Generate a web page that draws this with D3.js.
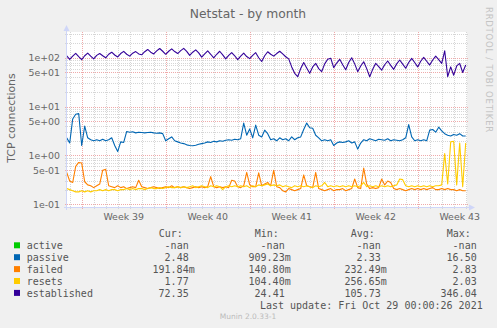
<!DOCTYPE html>
<html><head><meta charset="utf-8">
<script src="https://cdn.jsdelivr.net/npm/d3@7"></script>
<style>
html,body{margin:0;padding:0;background:#f0f0f0;}
svg{display:block;}
text{font-family:"DejaVu Sans",sans-serif;}
.mono{font-family:"DejaVu Sans Mono",monospace;white-space:pre;}
</style></head><body>
<svg id="chart" width="497" height="328"></svg>
<script>
// ---- data ----
const title = "Netstat - by month";
const yLabel = "TCP connections";
const seriesStart = "2021-09-25T18:00:00Z"; // first sample
const stepHours = 6;
const weekStarts = ["2021-09-27","2021-10-04","2021-10-11","2021-10-18","2021-10-25"];
const weekLabels = ["Week 39","Week 40","Week 41","Week 42","Week 43"];
const yTickValues = [0.1, 0.5, 1, 5, 10, 50, 100];
const yTickLabels = ["1e-01","5e-01","1e+00","5e+00","1e+01","5e+01","1e+02"];

const passive = [2.3,1.8,5.6,7.0,7.2,1.6,4.0,2.3,2.1,2.0,
 2.1,2.0,2.15,2.0,2.1,2.3,1.6,1.2,1.9,1.85,
 3.1,3.0,3.05,2.9,3.0,2.95,2.9,2.95,3.0,2.9,
 2.85,2.9,2.8,2.0,2.2,2.4,2.0,1.9,1.8,1.75,
 1.65,1.6,1.58,1.62,1.7,1.75,1.8,1.9,1.85,1.95,
 1.9,2.0,1.95,2.05,2.1,2.05,2.15,2.1,2.2,4.6,
 2.6,3.5,2.3,4.2,2.6,2.4,3.3,2.8,2.1,2.2,
 2.0,2.3,2.1,2.2,2.0,2.4,2.1,2.3,2.4,3.4,
 4.6,3.7,3.6,2.6,2.3,2.0,2.1,2.0,2.1,1.6,
 1.8,1.9,1.85,1.9,2.0,1.8,1.9,1.35,1.8,2.1,
 2.0,2.2,2.1,2.0,2.15,2.1,2.05,2.2,2.0,2.1,
 2.05,2.0,2.1,2.3,4.3,2.4,2.0,2.1,2.0,2.1,
 2.0,3.3,3.4,3.0,3.8,3.2,2.8,2.6,2.5,2.7,
 2.6,2.8,2.5,2.5];
const failed = [0.45,0.3,0.28,0.6,0.72,0.7,0.29,0.25,0.24,0.22,
 0.24,0.26,0.5,0.52,0.24,0.23,0.22,0.24,0.22,0.23,
 0.21,0.22,0.23,0.22,0.31,0.23,0.22,0.21,0.22,0.23,
 0.22,0.21,0.22,0.23,0.22,0.24,0.22,0.23,0.22,0.23,
 0.22,0.21,0.22,0.23,0.22,0.23,0.22,0.23,0.37,0.23,
 0.22,0.23,0.22,0.23,0.22,0.31,0.3,0.23,0.22,0.24,
 0.45,0.25,0.23,0.23,0.44,0.24,0.26,0.28,0.24,0.5,
 0.23,0.22,0.19,0.18,0.21,0.2,0.19,0.2,0.21,0.4,
 0.24,0.23,0.22,0.45,0.21,0.2,0.19,0.2,0.21,0.19,
 0.2,0.2,0.21,0.19,0.2,0.21,0.33,0.22,0.21,0.55,
 0.26,0.21,0.22,0.21,0.22,0.33,0.25,0.3,0.28,0.21,
 0.2,0.21,0.2,0.19,0.2,0.21,0.2,0.21,0.2,0.21,
 0.2,0.21,0.22,0.2,0.2,0.21,0.2,0.21,0.2,0.2,
 0.19,0.2,0.19,0.19];
const resets = [0.21,0.2,0.19,0.18,0.18,0.19,0.18,0.19,0.18,0.19,
 0.19,0.2,0.19,0.2,0.19,0.2,0.2,0.19,0.2,0.2,
 0.21,0.2,0.21,0.2,0.21,0.21,0.2,0.21,0.22,0.21,
 0.21,0.22,0.21,0.22,0.23,0.22,0.22,0.23,0.22,0.23,
 0.22,0.23,0.24,0.22,0.23,0.24,0.23,0.22,0.24,0.23,
 0.24,0.23,0.2,0.23,0.24,0.23,0.24,0.23,0.24,0.23,
 0.24,0.22,0.24,0.23,0.25,0.24,0.25,0.26,0.24,0.25,
 0.24,0.25,0.23,0.24,0.23,0.22,0.24,0.23,0.24,0.23,
 0.24,0.23,0.22,0.24,0.23,0.24,0.28,0.23,0.24,0.23,
 0.24,0.23,0.24,0.23,0.24,0.23,0.24,0.23,0.24,0.28,
 0.23,0.24,0.23,0.24,0.23,0.24,0.23,0.24,0.23,0.24,
 0.25,0.33,0.32,0.24,0.23,0.24,0.23,0.24,0.23,0.24,
 0.23,0.24,0.23,0.24,0.24,0.25,1.1,0.26,1.9,1.95,
 0.25,1.8,0.23,1.8];
const established = [110,
 93,108,123,106, 92,110,125,108, 95,112,122,110, 100,118,130,114,
 104,122,135,118, 108,124,134,120, 115,133,148,130, 120,138,155,136,
 118,136,152,134, 122,140,156,135, 112,130,145,126, 103,120,138,118,
 100,118,136,115, 95,112,128,110, 92,108,125,106, 96,112,127,100,
 84,110,133,118, 108,122,136,120, 105,95,65,48, 41,60,80,62,
 48,65,77,60, 52,75,93,98, 63,78,93,72, 57,80,100,75,
 52,68,83,60, 41,58,77,66, 56,72,86,70, 58,75,90,74,
 61,80,97,80, 65,85,102,85, 71,90,108,92, 77,139,41,65,
 44,68,77,50, 71];

const legendNames = ["active","passive","failed","resets","established"];
const legendColors = ["#00cc00","#0066b3","#ff8000","#ffcc00","#330099"];
const curVals = ["-nan","2.48","191.84m","1.77","72.35"];
const minVals = ["-nan","909.23m","140.80m","104.40m","24.41"];
const avgVals = ["-nan","2.33","232.49m","256.65m","105.73"];
const maxVals = ["-nan","16.50","2.83","2.03","346.04"];
const colHeaders = ["Cur:","Min:","Avg:","Max:"];
const lastUpdate = "Last update: Fri Oct 29 00:00:26 2021";
const footer = "Munin 2.0.33-1";
const watermark = "RRDTOOL / TOBI OETIKER";

// ---- layout ----
const L = 67, R = 467, T = 32, B = 207;
const DAY = 86400000;
const mon0 = Date.parse(weekStarts[0] + "T00:00:00Z");
const pxPerDay = 12;
const t0 = mon0 - (81.7 - L) / pxPerDay * DAY;
const t1 = t0 + (R - L) / pxPerDay * DAY;

const svg = d3.select("#chart");
const x = d3.scaleUtc().domain([new Date(t0), new Date(t1)]).range([L, R]);
const y = d3.scaleLog().domain([0.0882, 337]).range([B, T]);

svg.append("rect").attr("width",497).attr("height",328).attr("fill","#f0f0f0");
svg.append("rect").attr("x",L).attr("y",T).attr("width",R-L).attr("height",B-T).attr("fill","#ffffff");

const g = svg.append("g");
const gridGray = "#d6d6d6";
const gridRed = "#efaaaa";

// horizontal grid
const minorY = [], majorY = [];
for (let e = -2; e <= 3; e++) {
  for (let m = 1; m <= 9; m++) {
    const v = m * Math.pow(10, e);
    if (v < y.domain()[0] || v > y.domain()[1]) continue;
    (m === 1 || m === 5 ? majorY : minorY).push(v);
  }
}
const hy = v => Math.round(y(v)) + 0.5;
g.selectAll(".hmin").data(minorY).join("line")
  .attr("x1",L-2).attr("x2",R+2).attr("y1",hy).attr("y2",hy)
  .attr("stroke",gridGray).attr("stroke-dasharray","1,1");
g.selectAll(".hmaj").data(majorY).join("line")
  .attr("x1",L-2).attr("x2",R+2).attr("y1",hy).attr("y2",hy)
  .attr("stroke",gridRed).attr("stroke-dasharray","1,1");

// vertical grid
const days = d3.utcDay.range(new Date(t0), new Date(t1));
const weekDates = weekStarts.map(s => new Date(s + "T00:00:00Z"));
const weekSet = new Set(weekDates.map(d => +d));
const vx = d => Math.round(x(d)) + 0.5;
g.selectAll(".vmin").data(days.filter(d => !weekSet.has(+d))).join("line")
  .attr("x1",vx).attr("x2",vx).attr("y1",T).attr("y2",B+2)
  .attr("stroke",gridGray).attr("stroke-dasharray","1,1");
g.selectAll(".vmaj").data(weekDates).join("line")
  .attr("x1",vx).attr("x2",vx).attr("y1",T).attr("y2",B+3)
  .attr("stroke",gridRed).attr("stroke-dasharray","1,1");

// lines
svg.append("clipPath").attr("id","clip").append("rect")
  .attr("x",L).attr("y",T).attr("width",R-L).attr("height",B-T);
const tStart = Date.parse(seriesStart);
const timeAt = i => new Date(tStart + i * stepHours * 3600000);
const line = d3.line().x((d,i) => x(timeAt(i))).y(d => y(d));
const plotted = [[passive,"#0066b3"],[failed,"#ff8000"],[resets,"#ffcc00"],[established,"#330099"]];
const lg = svg.append("g").attr("clip-path","url(#clip)");
plotted.forEach(([vals,col]) => {
  lg.append("path").attr("d", line(vals)).attr("fill","none")
    .attr("stroke",col).attr("stroke-width",1.1).attr("stroke-linejoin","round");
});

// axes
const axisCol = "#cfd6f8";
svg.append("line").attr("x1",L-0.5).attr("x2",L-0.5).attr("y1",B+3).attr("y2",T-3).attr("stroke",axisCol);
svg.append("line").attr("x1",L-3).attr("x2",R+4).attr("y1",B+0.5).attr("y2",B+0.5).attr("stroke",axisCol);
svg.append("path").attr("d",`M${L-3.5},${T-1} L${L-0.5},${T-7} L${L+2.5},${T-1} Z`).attr("fill",axisCol);
svg.append("path").attr("d",`M${R+2},${B-2.5} L${R+8},${B+0.5} L${R+2},${B+3.5} Z`).attr("fill",axisCol);

// labels
const fontCol = "#666666";
svg.append("text").attr("x",248).attr("y",17.5).attr("text-anchor","middle")
  .attr("font-size","12.3px").attr("fill",fontCol).text(title);
svg.append("text").attr("transform","translate(15,118) rotate(-90)").attr("text-anchor","middle")
  .attr("font-size","10.9px").attr("fill",fontCol).text(yLabel);
svg.selectAll(".ytl").data(yTickValues).join("text")
  .attr("x",60).attr("y",d => y(d)).attr("dy","0.36em").attr("text-anchor","end")
  .attr("font-size","9.4px").attr("fill",fontCol).text((d,i) => yTickLabels[i]);
svg.selectAll(".xtl").data(weekDates).join("text")
  .attr("x",d => x(new Date(+d + 3.5*DAY))).attr("y",220).attr("text-anchor","middle")
  .attr("font-size","9.4px").attr("fill",fontCol).text((d,i) => weekLabels[i]);

// watermark
svg.append("text").attr("transform","translate(485.5,7) rotate(90)")
  .attr("font-size","8.5px").attr("fill","#c4c4c4").attr("letter-spacing","0.75px").text(watermark);

// legend
const cw = 6.0, lx = 26.7, legY0 = 249, rowH = 11.9;
const colStart = [lx + 21*cw, lx + 37*cw, lx + 53*cw, lx + 69*cw];
const legendCol = "#555555";
svg.selectAll(".hdr").data(colHeaders).join("text").attr("class","mono")
  .attr("x",(d,i) => colStart[i] + cw).attr("y",236.7).attr("font-size","10px").attr("fill",legendCol).text(d => d);
const cols = [curVals, minVals, avgVals, maxVals];
legendNames.forEach((name, r) => {
  const yy = legY0 + r * rowH;
  svg.append("rect").attr("x",14).attr("y",yy-6.7).attr("width",6).attr("height",6).attr("fill",legendColors[r]);
  svg.append("text").attr("class","mono").attr("x",lx).attr("y",yy).attr("font-size","10px").attr("fill",legendCol).text(name);
  cols.forEach((arr, c) => {
    const s = arr[r];
    const endX = colStart[c] + cw * (s.endsWith("m") ? 7 : 6);
    svg.append("text").attr("class","mono").attr("x",endX).attr("y",yy).attr("text-anchor","end")
      .attr("font-size","10px").attr("fill",legendCol).text(s);
  });
});
svg.append("text").attr("class","mono").attr("x",482.7).attr("y",309).attr("text-anchor","end")
  .attr("font-size","10px").attr("fill",legendCol).text(lastUpdate);
svg.append("text").attr("x",248).attr("y",319).attr("text-anchor","middle")
  .attr("font-size","7.5px").attr("fill","#bbbbbb").text(footer);
</script>
</body></html>
